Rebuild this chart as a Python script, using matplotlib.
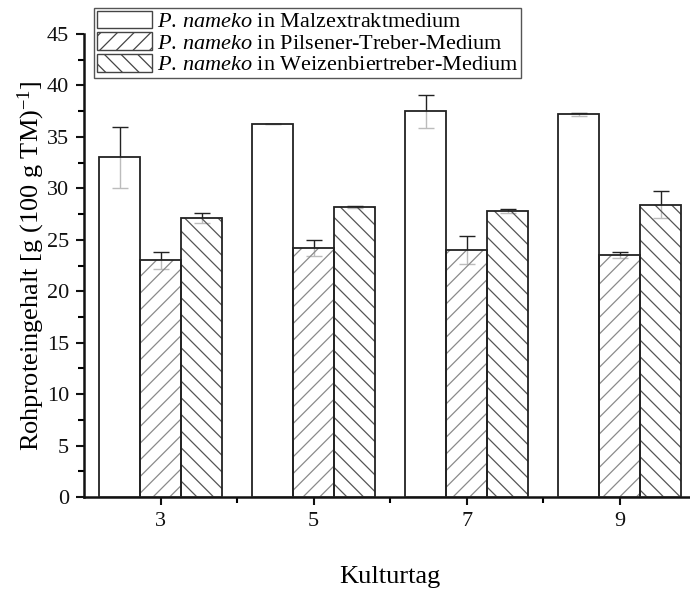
import numpy as np
import matplotlib
matplotlib.use("Agg")
import matplotlib.pyplot as plt
from matplotlib.ticker import MultipleLocator

plt.rcParams["font.family"] = ["Liberation Serif", "DejaVu Serif"]
plt.rcParams["mathtext.fontset"] = "custom"
plt.rcParams["mathtext.rm"] = "Liberation Serif"
plt.rcParams["mathtext.it"] = "Liberation Serif:italic"
plt.rcParams["hatch.linewidth"] = 0.9

days = [3, 5, 7, 9]
series_labels = [
    r"$\mathit{P.\,nameko}$ in Malzextraktmedium",
    r"$\mathit{P.\,nameko}$ in Pilsener-Treber-Medium",
    r"$\mathit{P.\,nameko}$ in Weizenbiertreber-Medium",
]
malz = [33.0, 36.3, 37.5, 37.2]
malz_err = [3.0, 0.0, 1.6, 0.15]
pils = [23.0, 24.2, 24.0, 23.5]
pils_err = [0.8, 0.8, 1.4, 0.3]
weizen = [27.1, 28.2, 27.8, 28.4]
weizen_err = [0.5, 0.1, 0.15, 1.3]

fig = plt.figure(figsize=(6.9, 5.96), dpi=100)
ax = fig.add_axes([0.122, 0.166, 0.887, 0.777])

x = np.array(days, dtype=float)
w = 0.536
styles = [
    dict(hatch=None, hcolor="#333333"),
    dict(hatch="//", hcolor="#8a8a8a"),
    dict(hatch="\\\\", hcolor="#555555"),
]
values = [malz, pils, weizen]
errors = [malz_err, pils_err, weizen_err]
offsets = [-w, 0.0, w]

handles = []
for vals, errs, off, st in zip(values, errors, offsets, styles):
    # hatch lines take the edgecolor, so draw the hatch first, then the outline
    ax.bar(x + off, vals, w, color=(1, 1, 1, 0.7), edgecolor=st["hcolor"],
           hatch=st["hatch"], linewidth=0, zorder=3)
    ax.bar(x + off, vals, w, fill=False, edgecolor="#222222",
           linewidth=1.3, zorder=4)
    ax.errorbar(x + off, vals, yerr=errs, fmt="none", ecolor="#222222",
                elinewidth=1.0, capsize=6, capthick=1.0, zorder=2)
    h = plt.Rectangle((0, 0), 1, 1, facecolor="white", edgecolor="#444444",
                      hatch=st["hatch"], linewidth=1.0)
    handles.append(h)

ax.set_xlim(2, 10)
ax.set_ylim(0, 45)
ax.set_xticks(days)
ax.set_xticks([4, 6, 8], minor=True)
ax.yaxis.set_major_locator(MultipleLocator(5))
ax.yaxis.set_minor_locator(MultipleLocator(2.5))

for s in ["top", "right"]:
    ax.spines[s].set_visible(False)
for s in ["left", "bottom"]:
    ax.spines[s].set_linewidth(1.8)
    ax.spines[s].set_color("#111111")

ax.tick_params(axis="both", which="major", direction="out", length=6,
               width=1.5, labelsize=16, colors="#111111", pad=5)
ax.tick_params(axis="both", which="minor", direction="out", length=4,
               width=1.5)

ax.set_xlabel("Kulturtag", fontsize=19, labelpad=25)
ax.set_ylabel(r"Rohproteingehalt [g (100 g TM)$^{-1}$]", fontsize=19,
              labelpad=0)

leg = ax.legend(handles, series_labels, loc="upper left",
                bbox_to_anchor=(0.016, 1.056), fontsize=16, frameon=True,
                fancybox=False, edgecolor="#555555", framealpha=1,
                handlelength=2.5, handleheight=0.85, handletextpad=0.2,
                labelspacing=0.0, borderpad=0.12, borderaxespad=0.0)
leg.get_frame().set_linewidth(1.0)

fig.savefig("out.png", dpi=100)
